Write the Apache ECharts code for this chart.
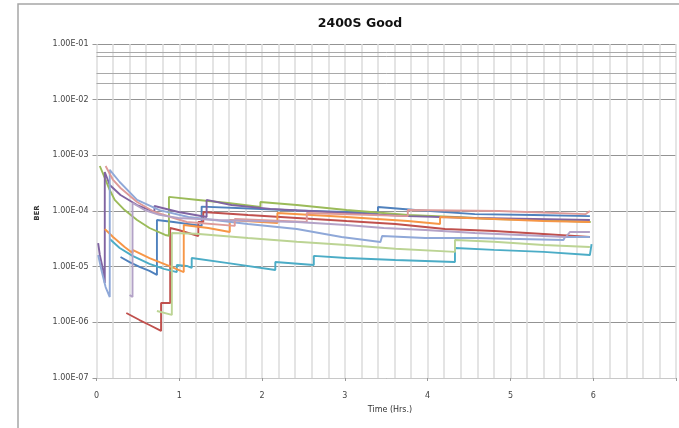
<!DOCTYPE html>
<html><head><meta charset="utf-8">
<script src="https://cdn.jsdelivr.net/npm/echarts/dist/echarts.min.js"></script>
<style>html,body{margin:0;padding:0;background:#fff}#c{width:679px;height:428px}</style>
</head><body><div id="c"></div>
<script>
// ---- data (Time in hours, BER) ----
const titleText = '2400S Good';
const xAxisTitle = 'Time (Hrs.)';
const yAxisTitle = 'BER';
const xTickValues = [0, 1, 2, 3, 4, 5, 6];
const minorGridValues = [7e-2, 6e-2, 3e-2, 2e-2, 7e-4, 6e-4, 3e-4, 2e-4, 8e-5, 7e-6, 6e-6, 3e-6, 9e-7, 5e-7, 2e-7];

const blue = [[0.29,1.49e-5],[0.40,1.21e-5],[0.52,9.9e-6],[0.64,8.4e-6],[0.73,7.1e-6],[0.73,6.9e-5],[0.93,6.35e-5],[1.27,5.4e-5],[1.27,1.2e-4],[1.92,1.1e-4],[2.42,1.02e-4],[3.40,9.2e-5],[3.40,1.18e-4],[3.85,1.04e-4],[4.57,8.8e-5],[5.28,8.5e-5],[5.96,8.1e-5]];
const red = [[0.36,1.47e-6],[0.52,1.10e-6],[0.64,8.96e-7],[0.78,7.0e-7],[0.78,2.23e-6],[0.89,2.23e-6],[0.89,4.95e-5],[0.99,4.56e-5],[1.23,3.56e-5],[1.23,6.35e-5],[1.29,6.35e-5],[1.29,9.6e-5],[1.83,8.5e-5],[2.42,7.5e-5],[3.02,6.6e-5],[3.61,5.85e-5],[4.21,4.75e-5],[4.80,4.38e-5],[5.40,3.86e-5],[5.96,3.41e-5]];
const green = [[0.04,6.43e-4],[0.10,3.92e-4],[0.16,2.38e-4],[0.22,1.58e-4],[0.34,1.04e-4],[0.49,6.9e-5],[0.64,4.95e-5],[0.83,3.71e-5],[0.875,3.6e-5],[0.875,1.79e-4],[1.23,1.58e-4],[1.59,1.39e-4],[1.98,1.18e-4],[1.98,1.45e-4],[2.42,1.28e-4],[3.02,1.04e-4],[3.76,8.5e-5],[4.33,7.8e-5],[4.80,7.2e-5],[5.40,6.9e-5],[5.97,6.35e-5]];
const purple = [[0.02,2.66e-5],[0.04,1.62e-5],[0.08,8.7e-6],[0.10,5.1e-6],[0.10,5.02e-4],[0.16,2.93e-4],[0.29,1.94e-4],[0.49,1.28e-4],[0.70,9.6e-5],[0.70,1.23e-4],[0.99,9.6e-5],[1.33,7.8e-5],[1.33,1.58e-4],[1.63,1.28e-4],[2.10,1.09e-4],[3.02,9.2e-5],[3.76,8.1e-5],[4.57,7.5e-5],[5.28,7.2e-5],[5.96,6.9e-5]];
const aqua = [[0.16,3.14e-5],[0.28,2.17e-5],[0.435,1.56e-5],[0.64,1.12e-5],[0.815,9.1e-6],[0.97,8.0e-6],[0.97,1.07e-5],[1.09,1.03e-5],[1.15,9.5e-6],[1.15,1.43e-5],[1.59,1.16e-5],[2.16,8.7e-6],[2.16,1.21e-5],[2.625,1.07e-5],[2.625,1.56e-5],[3.02,1.43e-5],[3.61,1.32e-5],[4.33,1.21e-5],[4.33,2.17e-5],[4.80,2.0e-5],[5.40,1.84e-5],[5.96,1.62e-5],[5.98,2.55e-5]];
const orange = [[0.10,4.75e-5],[0.20,3.41e-5],[0.34,2.25e-5],[0.435,1.76e-5],[0.435,2.0e-5],[0.64,1.43e-5],[0.875,1.03e-5],[1.054,8.0e-6],[1.054,5.6e-5],[1.35,4.95e-5],[1.61,4.2e-5],[1.61,6.9e-5],[2.185,6.1e-5],[2.185,9.2e-5],[3.02,7.8e-5],[3.76,6.6e-5],[4.15,5.85e-5],[4.15,7.8e-5],[4.80,7.2e-5],[5.40,6.6e-5],[5.96,6.35e-5]];
const lightBlue = [[0.02,1.62e-5],[0.065,8.0e-6],[0.11,4.3e-6],[0.16,2.85e-6],[0.16,5.5e-4],[0.28,3.32e-4],[0.49,1.58e-4],[0.76,1.04e-4],[1.11,7.8e-5],[1.83,5.85e-5],[2.42,4.75e-5],[2.96,3.41e-5],[3.43,2.77e-5],[3.45,3.56e-5],[3.97,3.27e-5],[4.57,3.27e-5],[5.64,3.01e-5],[5.66,3.41e-5],[5.96,3.41e-5]];
const pink = [[0.11,6.43e-4],[0.20,3.61e-4],[0.29,2.59e-4],[0.49,1.45e-4],[0.70,9.6e-5],[1.09,6.35e-5],[1.67,5.4e-5],[1.67,7.2e-5],[2.54,6.35e-5],[2.54,9.2e-5],[3.76,8.1e-5],[3.76,1.04e-4],[4.86,1.0e-4],[5.91,8.8e-5],[5.96,1.0e-4]];
const lightPurple = [[0.40,3.1e-6],[0.435,2.85e-6],[0.435,1.39e-4],[0.58,1.04e-4],[0.76,8.5e-5],[0.99,7.5e-5],[1.47,6.9e-5],[2.42,6.35e-5],[3.02,5.6e-5],[3.47,4.95e-5],[3.97,4.56e-5],[4.57,4.03e-5],[5.67,3.41e-5],[5.72,4.2e-5],[5.96,4.2e-5]];
const lightGreen = [[0.73,1.6e-6],[0.91,1.36e-6],[0.91,4.03e-5],[1.2,3.9e-5],[1.83,3.27e-5],[2.42,2.8e-5],[3.02,2.45e-5],[3.61,2.1e-5],[4.33,1.84e-5],[4.33,3.01e-5],[4.80,2.8e-5],[5.40,2.45e-5],[5.96,2.25e-5]];

const seriesList = [
  ['Series 1', blue], ['Series 2', red], ['Series 3', green], ['Series 4', purple],
  ['Series 5', aqua], ['Series 6', orange], ['Series 7', lightBlue], ['Series 8', pink],
  ['Series 9', lightPurple], ['Series 10', lightGreen]
];
// ---- styles ----
const colors = ['#4F81BD','#C0504D','#9BBB59','#8064A2','#4BACC6','#F79646','#8FA8D8','#DE9A98','#B3A2C7','#BCD494'];

function fmtE(v) {
  const e = Math.round(Math.log10(v));
  return '1.00E' + (e < 0 ? '-' : '+') + String(Math.abs(e)).padStart(2, '0');
}

const chart = echarts.init(document.getElementById('c'), null, {renderer: 'canvas'});
const series = seriesList.map((s, i) => ({
  name: s[0], type: 'line', data: s[1], symbol: 'none', showSymbol: false,
  lineStyle: {width: 1.9, color: colors[i]}, itemStyle: {color: colors[i]},
  z: 3, animation: false
}));
series.unshift({
  name: 'minor', type: 'line', data: [], z: 1, silent: true, animation: false,
  markLine: {
    silent: true, symbol: ['none', 'none'], label: {show: false}, animation: false,
    lineStyle: {color: '#a9a9a9', width: 1, type: 'solid'},
    data: minorGridValues.map(v => ({yAxis: v}))
  }
});

chart.setOption({
  animation: false,
  backgroundColor: '#fff',
  title: {text: titleText, left: 355, top: 12, textAlign: 'center',
    textStyle: {fontFamily: 'DejaVu Sans', fontWeight: 'bold', fontSize: 12.5, color: '#111'}},
  grid: {left: 96.5, right: -5.5, top: 44, bottom: 50, containLabel: false},
  xAxis: {
    type: 'value', min: 0, max: 7, interval: 1,
    axisLine: {show: true, lineStyle: {color: '#c8c8c8'}},
    axisTick: {show: true, length: 3, lineStyle: {color: '#999'}},
    axisLabel: {margin: 14, fontFamily: 'DejaVu Sans', fontSize: 8, color: '#444',
      formatter: v => xTickValues.includes(v) ? String(v) : ''},
    splitLine: {show: true, lineStyle: {color: '#dcdcdc', width: 1.5}},
    minorTick: {show: false, splitNumber: 5},
    minorSplitLine: {show: true, lineStyle: {color: '#dcdcdc', width: 1.5}}
  },
  yAxis: {
    type: 'log', logBase: 10, min: 1e-7, max: 1e-1, splitNumber: 6,
    axisLine: {show: false},
    axisTick: {show: true, length: 4, lineStyle: {color: '#999'}},
    axisLabel: {margin: 8, fontFamily: 'DejaVu Sans', fontSize: 8, color: '#444', formatter: fmtE},
    splitLine: {show: true, lineStyle: {color: '#939393', width: 1.2}}
  },
  graphic: [
    {type: 'rect', shape: {x: 18, y: 4, width: 700, height: 440}, silent: true,
      style: {fill: 'none', stroke: '#a6a6a6', lineWidth: 1.5}},
    {type: 'text', x: 37, y: 213, rotation: Math.PI / 2, silent: true,
      style: {text: yAxisTitle, fontFamily: 'DejaVu Sans', fontWeight: 'bold', fontSize: 7, fill: '#333',
        textAlign: 'center', textVerticalAlign: 'middle'}},
    {type: 'text', x: 390, y: 410, silent: true,
      style: {text: xAxisTitle, fontFamily: 'DejaVu Sans', fontSize: 8, fill: '#333',
        textAlign: 'center', textVerticalAlign: 'middle'}}
  ],
  series: series
});
</script>
</body></html>
